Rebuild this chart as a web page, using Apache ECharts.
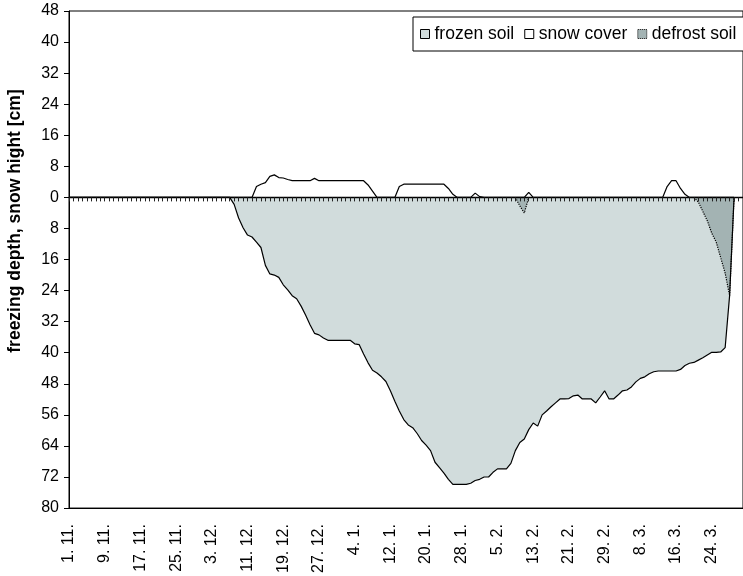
<!DOCTYPE html>
<html>
<head>
<meta charset="utf-8">
<script src="https://cdn.jsdelivr.net/npm/echarts@6/dist/echarts.min.js"></script>
<style>
html,body{margin:0;padding:0;background:#fff}
#chart{width:743px;height:576px}
</style>
</head>
<body>
<div id="chart"></div>
<script>
// Winter season, 1 Nov to 31 Mar (leap year): [month, number of days]
const monthSpans = [[11, 30], [12, 31], [1, 31], [2, 29], [3, 31]];
const days = [];
monthSpans.forEach(function (ms) {
  for (let d = 1; d <= ms[1]; d++) days.push(d + '. ' + ms[0] + '.');
});

// Y tick labels (depth below 0 shown as positive numbers)
const yTickMin = -80, yTickMax = 48, yTickStep = 8;

// Frozen soil depth [cm], one value per day from 1. 11.
const frozenDepth = [
  0,0,0,0,0,0,0,0,0,0, 0,0,0,0,0,0,0,0,0,0,
  0,0,0,0,0,0,0,0,0,0, 0,0,0,0,0,0,0,1.8,5.3,7.8,
  9.7,10.2,11.5,12.9,17.5,19.7,20,20.6,22.5,23.8,
  25.3,26.1,28,30.3,32.8,35,35.4,36.2,36.8,36.8,
  36.8,36.8,36.8,36.8,37.7,37.9,40.3,42.6,44.5,45.2,
  46.2,47.4,49.8,52.5,55,57.2,58.6,59.3,60.8,62.6,
  63.8,65.2,68.2,69.6,71,72.6,73.9,73.9,73.9,73.9,
  73.6,72.9,72.6,72,72,70.8,69.9,69.9,69.9,68.5,
  65.2,63.1,62.2,59.8,58.1,58.9,56,55,53.9,52.9,
  51.9,51.9,51.8,51.1,50.9,51.9,51.9,51.9,52.9,51.4,
  49.8,51.9,51.9,50.9,49.8,49.6,48.8,47.5,46.6,46.2,
  45.4,44.9,44.7,44.7,44.7,44.7,44.7,44.3,43.3,42.7,
  42.5,41.9,41.3,40.6,39.9,39.9,39.8,38.7,25.3,0
];

// Snow height [cm]
const snowHeight = [
  0,0,0,0,0,0,0,0,0,0, 0,0,0,0,0,0,0,0,0,0,
  0,0,0,0,0,0,0,0,0,0, 0,0,0,0,0,0,0,0,0,0,
  0,0,2.8,3.4,3.8,5.4,5.8,5.1,5,4.6,
  4.3,4.3,4.3,4.3,4.3,4.9,4.3,4.3,4.3,4.3,
  4.3,4.3,4.3,4.3,4.3,4.3,4.3,3.2,1.6,0,
  0,0,0,0,2.8,3.4,3.4,3.4,3.4,3.4,
  3.4,3.4,3.4,3.4,3.4,2.3,0.8,0,0,0,
  0,1.1,0.2,0,0,0,0,0,0,0,
  0,0,0,1.3,0,0,0,0,0,0,
  0,0,0,0,0,0,0,0,0,0,
  0,0,0,0,0,0,0,0,0,0,
  0,0,0,0,2.8,4.3,4.3,2.3,0.8,0,
  0,0,0,0,0,0,0,0,0,0
];

// Defrosted top layer [cm]; null where no thaw was observed
const defrostDepth = [];
for (let i = 0; i < 150; i++) defrostDepth.push(null);
const defrostSpells = [
  [100, [0, 2.2, 4, 0]],
  [140, [0, 1.2, 3.6, 6, 9.2, 11.5, 15.5, 19.5, 25.3, 0]]
];
defrostSpells.forEach(function (sp) {
  sp[1].forEach(function (v, k) { defrostDepth[sp[0] + k] = v; });
});

const neg = function (arr) { return arr.map(function (v) { return v == null ? null : -v; }); };

const FONT = '"Liberation Sans", Arial, sans-serif';
const chart = echarts.init(document.getElementById('chart'), null, { renderer: 'canvas' });

chart.setOption({
  animation: false,
  backgroundColor: '#fff',
  textStyle: { fontFamily: FONT, color: '#000' },
  grid: {
    left: 69, top: 11, width: 676.5, height: 499,
    show: true, borderColor: '#000', borderWidth: 1, backgroundColor: 'transparent',
    containLabel: false
  },
  legend: {
    left: 413, top: 17, width: 340,
    orient: 'horizontal',
    icon: 'rect',
    itemWidth: 9, itemHeight: 9, itemGap: 10,
    padding: [8, 14, 8, 7],
    borderColor: '#000', borderWidth: 1, backgroundColor: '#fff',
    selectedMode: false,
    textStyle: { fontFamily: FONT, fontSize: 17.5, color: '#000' },
    data: [
      { name: 'frozen soil', itemStyle: { color: '#d1dcdc', borderColor: '#000', borderWidth: 1 } },
      { name: 'snow cover', itemStyle: { color: '#ffffff', borderColor: '#000', borderWidth: 1 } },
      { name: 'defrost soil', itemStyle: { color: '#a3b3b3', borderColor: '#000', borderWidth: 1, borderType: 'dotted' } }
    ]
  },
  xAxis: [
    {
      type: 'category', data: days, boundaryGap: false, position: 'bottom',
      axisLine: { onZero: false, lineStyle: { color: '#000', width: 1 } },
      axisTick: { show: false },
      splitLine: { show: false },
      axisLabel: { interval: 7, rotate: 90, margin: 16, fontSize: 16, color: '#000', fontFamily: FONT }
    },
    {
      // zero line with a tick for every day, drawn above the areas
      type: 'category', data: days, boundaryGap: false, position: 'bottom', z: 100,
      axisLine: { onZero: true, onZeroAxisIndex: 0, lineStyle: { color: '#000', width: 1.3 } },
      axisTick: { show: true, interval: 0, length: 4, lineStyle: { color: '#222', width: 1 } },
      axisLabel: { show: false },
      splitLine: { show: false }
    }
  ],
  yAxis: {
    type: 'value', min: yTickMin, max: yTickMax, interval: yTickStep,
    axisLine: { show: true, onZero: false, lineStyle: { color: '#000', width: 1 } },
    axisTick: { show: true, length: 5, lineStyle: { color: '#000' } },
    splitLine: { show: false },
    axisLabel: {
      fontSize: 16, color: '#000', margin: 10, fontFamily: FONT,
      formatter: function (v) { return String(Math.abs(v)); }
    }
  },
  graphic: [{
    type: 'text', x: 15, y: 221, rotation: Math.PI / 2,
    style: {
      text: 'freezing depth, snow hight [cm]',
      font: 'bold 17.5px ' + FONT, fill: '#000',
      align: 'center', verticalAlign: 'middle'
    }
  }],
  series: [
    {
      name: 'frozen soil', type: 'line', xAxisIndex: 0, data: neg(frozenDepth),
      symbol: 'none', showSymbol: false,
      itemStyle: { color: '#d1dcdc' },
      lineStyle: { color: '#000', width: 1.2 },
      areaStyle: { color: '#d1dcdc', opacity: 1 }
    },
    {
      name: 'snow cover', type: 'line', xAxisIndex: 0, data: snowHeight,
      symbol: 'none', showSymbol: false,
      itemStyle: { color: '#ffffff' },
      lineStyle: { color: '#000', width: 1.2 },
      areaStyle: { color: '#ffffff', opacity: 1 }
    },
    {
      name: 'defrost soil', type: 'line', xAxisIndex: 0, data: neg(defrostDepth),
      symbol: 'none', showSymbol: false, connectNulls: false,
      itemStyle: { color: '#a3b3b3' },
      lineStyle: { color: '#000', width: 1.2, type: 'dotted' },
      areaStyle: { color: '#a3b3b3', opacity: 1 }
    }
  ]
});
</script>
</body>
</html>
